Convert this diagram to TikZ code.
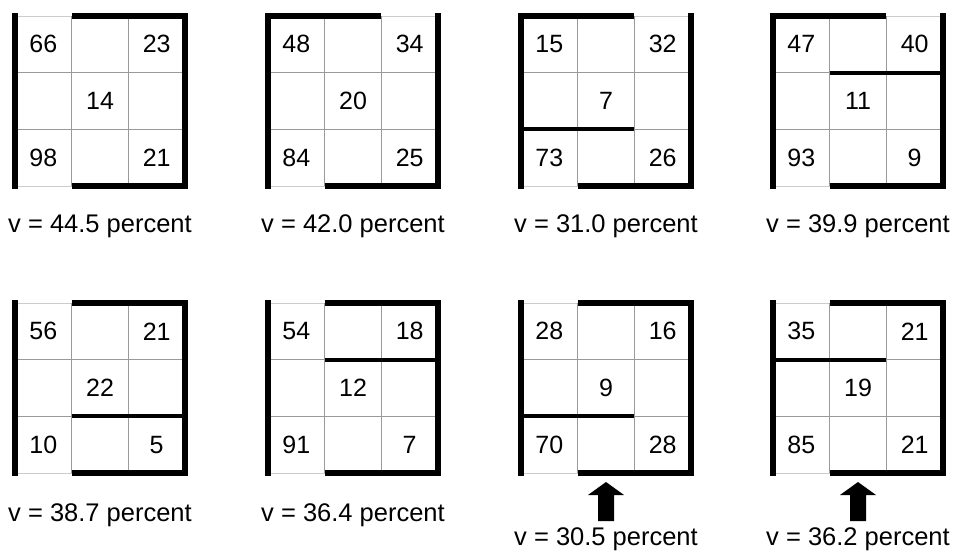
\documentclass[tikz,border=0pt]{standalone}
\usepackage{fontspec}
\setmainfont{Liberation Sans}
\usetikzlibrary{positioning,calc}
\definecolor{gridgray}{HTML}{9A9A9A}
\definecolor{edgegray}{HTML}{CCCCCC}
\tikzset{
  box/.style     = {minimum size=170pt, inner sep=0pt, outer sep=0pt},
  num/.style     = {font=\fontsize{25}{30}\selectfont, inner sep=0pt},
  vlabel/.style  = {font=\fontsize{25.5}{30}\selectfont, inner sep=0pt},
  wall/.style    = {line width=6pt, draw=black},
  inwall/.style  = {line width=4pt, draw=black},
  hair/.style    = {line width=0.9pt, draw=gridgray},
  rim/.style     = {line width=0.9pt, draw=edgegray},
  pointer/.style = {fill=black},
}
% #1 name, #2/#3 top left, #4..#8 corner and centre values, #9 walls
\newcommand{\zonegrid}[9]{%
  \node[box] (#1) at (#2+85,#3+85) {};
  \begin{scope}[shift={(#1.north west)}, x=56.67pt, y=-56.67pt]
    \draw[rim] (0,0) rectangle (3,3);
    \foreach \k in {1,2} {
      \draw[hair] (\k,0) -- (\k,3);
      \draw[hair] (0,\k) -- (3,\k);
    }
    \node[num] (#1-tl) at (0.5,0.5) {#4};
    \node[num] (#1-tr) at (2.5,0.5) {#5};
    \node[num] (#1-c)  at (1.5,1.5) {#6};
    \node[num] (#1-bl) at (0.5,2.5) {#7};
    \node[num] (#1-br) at (2.5,2.5) {#8};
    #9
  \end{scope}}
\newcommand{\openleft}{%
  \draw[wall, shorten <=-3pt, shorten >=-3pt] (0,0) -- (0,3);
  \draw[wall] (1,0) -- (3,0) -- (3,3) -- (1,3);}
\newcommand{\openright}{%
  \draw[wall, shorten >=-3pt] (2,0) -- (0,0) -- (0,3);
  \draw[wall, shorten >=-3pt] (1,3) -- (3,3) -- (3,0);}

\begin{document}
\begin{tikzpicture}[x=1pt, y=-1pt]
  \fill[white] (0,0) rectangle (956,552);
  \useasboundingbox (0,0) rectangle (956,552);

  \zonegrid{g1}{15}{16}{66}{23}{14}{98}{21}{\openleft}
  \zonegrid{g2}{268}{16}{48}{34}{20}{84}{25}{\openright}
  \zonegrid{g3}{521}{16}{15}{32}{7}{73}{26}{\openright
    \draw[inwall] (0,2) -- (2,2);}
  \zonegrid{g4}{773}{16}{47}{40}{11}{93}{9}{\openright
    \draw[inwall] (1,1) -- (3,1);}
  \zonegrid{g5}{15}{303}{56}{21}{22}{10}{5}{\openleft
    \draw[inwall] (1,2) -- (3,2);}
  \zonegrid{g6}{268}{303}{54}{18}{12}{91}{7}{\openleft
    \draw[inwall] (1,1) -- (3,1);}
  \zonegrid{g7}{521}{303}{28}{16}{9}{70}{28}{\openleft
    \draw[inwall] (0,2) -- (2,2);}
  \zonegrid{g8}{773}{303}{35}{21}{19}{85}{21}{\openleft
    \draw[inwall] (0,1) -- (2,1);}

  \node[vlabel, below=46pt of g1.south, anchor=base] (v1) {v = 44.5 percent};
  \node[vlabel, below=46pt of g2.south, anchor=base] (v2) {v = 42.0 percent};
  \node[vlabel, below=46pt of g3.south, anchor=base] (v3) {v = 31.0 percent};
  \node[vlabel, below=46pt of g4.south, anchor=base] (v4) {v = 39.9 percent};
  \node[vlabel, below=48pt of g5.south, anchor=base] (v5) {v = 38.7 percent};
  \node[vlabel, below=48pt of g6.south, anchor=base] (v6) {v = 36.4 percent};
  \node[vlabel, below=72pt of g7.south, anchor=base] (v7) {v = 30.5 percent};
  \node[vlabel, below=72pt of g8.south, anchor=base] (v8) {v = 36.2 percent};

  \coordinate[below=48pt of g7.south] (p7);
  \coordinate[below=48pt of g8.south] (p8);
  \foreach \p in {p7,p8}
    \fill[pointer] (\p) ++(-8,0) -- ++(0,-26) -- ++(-10,0) -- ++(18,-13)
      -- ++(18,13) -- ++(-10,0) -- ++(0,26) -- cycle;
\end{tikzpicture}
\end{document}
